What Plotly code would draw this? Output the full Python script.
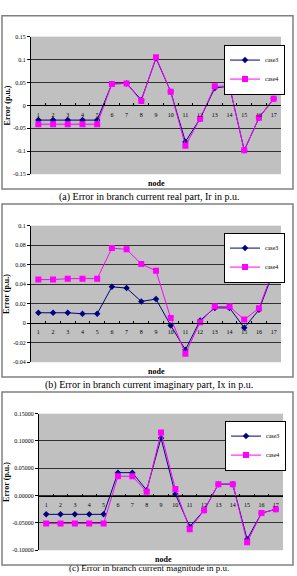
import plotly.graph_objects as go

W, H = 297, 576

nodes = [str(i) for i in range(1, 18)]

# (a) real part Ir
ir_case3 = [-0.032, -0.032, -0.032, -0.032, -0.032, 0.047, 0.048, 0.012, 0.103, 0.030,
            -0.079, -0.029, 0.038, 0.042, -0.098, -0.027, 0.0145]
ir_case4 = [-0.041, -0.041, -0.041, -0.041, -0.041, 0.047, 0.048, 0.0094, 0.105, 0.030,
            -0.088, -0.029, 0.042, 0.042, -0.098, -0.027, 0.0145]
# (b) imaginary part Ix
ix_case3 = [0.0107, 0.0107, 0.0107, 0.0097, 0.0097, 0.0373, 0.036, 0.0223, 0.0247, -0.0023,
            -0.0273, 0.0027, 0.0157, 0.0157, -0.0047, 0.0137, 0.0533]
ix_case4 = [0.0447, 0.0447, 0.0457, 0.0457, 0.0457, 0.077, 0.0757, 0.0607, 0.0537, 0.0053,
            -0.0313, 0.001, 0.017, 0.017, 0.0037, 0.0153, 0.056]
# (c) magnitude
im_case3 = [-0.0343, -0.0343, -0.0343, -0.0343, -0.0343, 0.042, 0.042, 0.010, 0.1054, 0.003,
            -0.057, -0.027, 0.021, 0.021, -0.080, -0.032, -0.025]
im_case4 = [-0.0512, -0.0512, -0.0512, -0.0512, -0.0512, 0.0355, 0.0355, 0.0072, 0.1157, 0.012,
            -0.0614, -0.027, 0.021, 0.021, -0.0855, -0.032, -0.025]

yt1_vals = [-0.15, -0.1, -0.05, 0, 0.05, 0.1, 0.15]
yt1_text = ["-0.15", "-0.1", "-0.05", "0", "0.05", "0.1", "0.15"]
yt2_vals = [-0.04, -0.02, 0, 0.02, 0.04, 0.06, 0.08, 0.1]
yt2_text = ["-0.04", "-0.02", "0", "0.02", "0.04", "0.06", "0.08", "0.1"]
yt3_vals = [-0.1, -0.05, 0, 0.05, 0.1, 0.15]
yt3_text = ["-0.10000", "-0.05000", "0.00000", "0.05000", "0.10000", "0.15000"]

captions = ["(a) Error in branch current real part, Ir in p.u.",
            "(b) Error in branch current imaginary part, Ix in p.u.",
            "(c) Error in branch current magnitude in p.u."]

# layout in pixels
panels = [
    dict(box=(2, 13, 293, 188), plot=(31, 34, 281, 173), rng=(-0.15, 0.15),
         leg=(224, 42), node_y=182, node_x=156, cap_y=196, ylab_x=7),
    dict(box=(2, 203, 293, 378), plot=(31, 225, 281, 363), rng=(-0.04, 0.1),
         leg=(224, 232), node_y=372, node_x=156, cap_y=386, ylab_x=7),
    dict(box=(2, 393, 293, 568), plot=(39, 415, 283, 553), rng=(-0.1, 0.15),
         leg=(225, 422), node_y=562, node_x=163, cap_y=571, ylab_x=7),
]
series = [(ir_case3, ir_case4, yt1_vals, yt1_text),
          (ix_case3, ix_case4, yt2_vals, yt2_text),
          (im_case3, im_case4, yt3_vals, yt3_text)]

def px(x):
    return x / W

def py(y):
    return 1 - y / H

fig = go.Figure()
shapes, annotations = [], []
serif = "Liberation Serif"

for i, (p, s) in enumerate(zip(panels, series)):
    k = "" if i == 0 else str(i + 1)
    c3, c4, tv, tt = s
    leg = "legend" + k
    fig.add_trace(go.Scatter(x=nodes, y=c3, name="case3", mode="lines+markers",
                             line=dict(color="#000080", width=1),
                             marker=dict(symbol="diamond", size=5, color="#000080"),
                             xaxis="x" + k, yaxis="y" + k, legend=leg))
    fig.add_trace(go.Scatter(x=nodes, y=c4, name="case4", mode="lines+markers",
                             line=dict(color="#FF00FF", width=1),
                             marker=dict(symbol="square", size=6, color="#FF00FF"),
                             xaxis="x" + k, yaxis="y" + k, legend=leg))
    x0, y0, x1, y1 = p["plot"]
    ymin, ymax = p["rng"]
    ydom = [py(y1), py(y0)]
    zero_pos = ydom[0] + (0 - ymin) / (ymax - ymin) * (ydom[1] - ydom[0])
    fig.update_layout({
        "xaxis" + k: dict(domain=[px(x0), px(x1)], anchor="free", position=zero_pos,
                          type="category", range=[-0.5, 16.5], showgrid=False,
                          showline=True, linecolor="black", linewidth=1,
                          ticks="inside", ticklen=2, tickcolor="black", tickson="boundaries",
                          tickangle=0,
                          tickfont=dict(family=serif, size=6, color="black"),
                          ticklabelstandoff=3, zeroline=False),
        "yaxis" + k: dict(domain=ydom, anchor="x" + k, range=[ymin, ymax],
                          tickvals=tv, ticktext=tt, showgrid=True, gridcolor="#303030",
                          gridwidth=1, zeroline=False, showline=True, linecolor="black",
                          ticks="outside", ticklen=3, tickcolor="black",
                          tickfont=dict(family=serif, size=6, color="black")),
        leg: dict(x=px(p["leg"][0]), y=py(p["leg"][1]), xanchor="left", yanchor="top",
                  bgcolor="white", bordercolor="black", borderwidth=1,
                  font=dict(family=serif, size=6, color="black"),
                  tracegroupgap=0, itemwidth=30),
    })
    bx0, by0, bx1, by1 = p["box"]
    shapes.append(dict(type="rect", xref="paper", yref="paper", x0=px(bx0), x1=px(bx1),
                       y0=py(by1), y1=py(by0), line=dict(color="#808080", width=1.5),
                       layer="above"))
    annotations.append(dict(text="<b>node</b>", xref="paper", yref="paper",
                            x=px(p["node_x"]), y=py(p["node_y"]), showarrow=False,
                            xanchor="center", yanchor="middle",
                            font=dict(family=serif, size=8, color="black")))
    annotations.append(dict(text="<b>Error (p.u.)</b>", xref="paper", yref="paper",
                            x=px(p["ylab_x"]), y=(ydom[0] + ydom[1]) / 2, showarrow=False,
                            textangle=-90, xanchor="center", yanchor="middle",
                            font=dict(family=serif, size=8, color="black")))
    annotations.append(dict(text=captions[i], xref="paper", yref="paper",
                            x=0.5, y=py(p["cap_y"]), showarrow=False,
                            xanchor="center", yanchor="middle",
                            font=dict(family=serif, size=10 if i < 2 else 9, color="black")))

fig.update_layout(width=W, height=H, margin=dict(l=0, r=0, t=0, b=0),
                  paper_bgcolor="white", plot_bgcolor="#c0c0c0",
                  shapes=shapes, annotations=annotations, showlegend=True)

fig.write_html("out.html")
